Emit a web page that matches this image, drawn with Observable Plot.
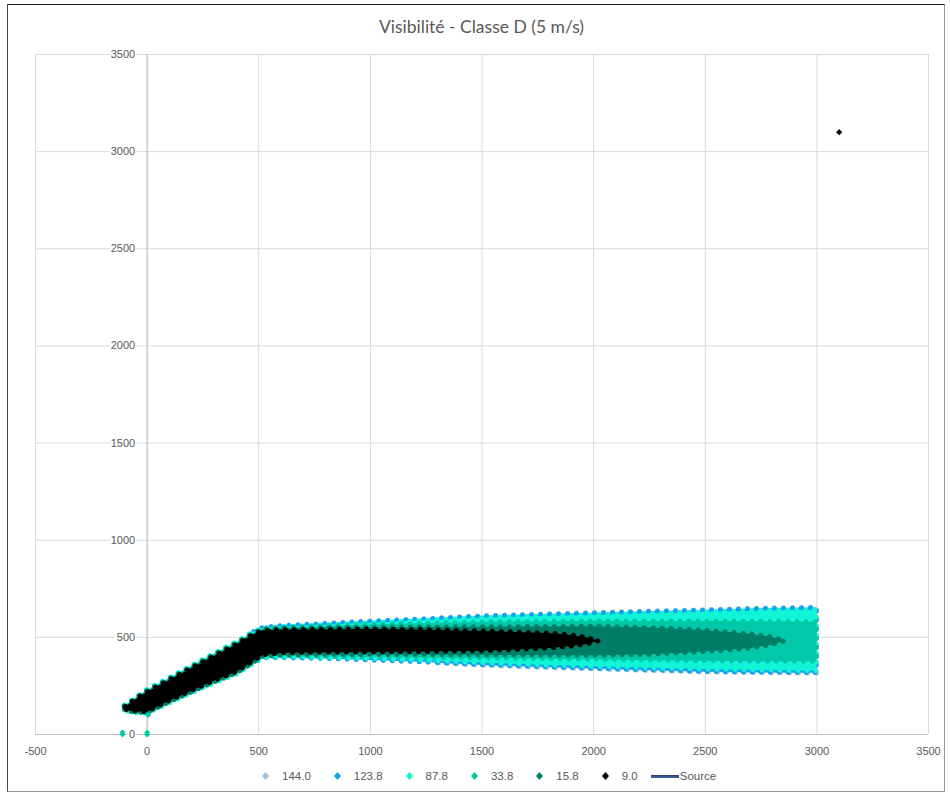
<!DOCTYPE html>
<html>
<head>
<meta charset="utf-8">
<script src="https://cdn.jsdelivr.net/npm/d3@7"></script>
<script src="https://cdn.jsdelivr.net/npm/@observablehq/plot@0.6"></script>
<style>
  body { margin: 0; background: #fff; width: 950px; height: 795px; position: relative; overflow: hidden; font-family: "Liberation Sans", sans-serif; }
  #frame { position: absolute; left: 7px; top: 4px; width: 938px; height: 788px; border: 1px solid #999; border-top-color: #222; border-left-color: #444; box-sizing: border-box; }
  #title { position: absolute; top: 17px; left: 0; width: 963px; text-align: center; font-family: Lato, "Open Sans", sans-serif; font-size: 17.5px; line-height: 20px; color: #595959; }
  #chart { position: absolute; left: 0; top: 0; }
  #legend { position: absolute; left: 262px; top: 768px; height: 16px; display: flex; align-items: center; gap: 23px; font-size: 11.5px; color: #595959; line-height: 16px; }
  #legend .item { display: flex; align-items: center; }
  #legend .item svg { margin-right: 13px; }
  #legend .src { display: inline-block; width: 28px; height: 2px; background: #3a5a94; border-top: 1px solid #2b4478; margin-right: 1px; margin-left: -10px; }
</style>
</head>
<body>
<div id="frame"></div>
<div id="title">Visibilité - Classe D (5 m/s)</div>
<div id="chart"></div>
<div id="legend"></div>
<script>
// ---- axis ticks ----
const xTicks = [-500, 0, 500, 1000, 1500, 2000, 2500, 3000, 3500];
const yTicks = [0, 500, 1000, 1500, 2000, 2500, 3000, 3500];

// ---- series names / colours ----
const seriesNames = ["144.0", "123.8", "87.8", "33.8", "15.8", "9.0"];
const seriesColors = ["#95c6df", "#12a3ee", "#11f5d6", "#00c8a8", "#007d66", "#000000"];

// ---- plume envelopes (x, lower y, upper y) ----
// 144.0
const s144_x  = [1300, 1500, 1750, 2000, 2250, 2500, 2750, 3000];
const s144_lo = [366, 354, 344, 335, 327, 319, 315, 313];
const s144_hi = [597, 609, 617, 625, 633, 640, 648, 653];
// 123.8
const s123_x  = [480, 520, 600, 800, 1000, 1250, 1500, 1750, 2000, 2250, 2500, 2750, 3000];
const s123_lo = [366, 392, 393, 388, 381, 370, 357, 347, 338, 330, 322, 318, 316];
const s123_hi = [527, 548, 558, 569, 581, 593, 606, 614, 622, 630, 637, 645, 650];
// 87.8
const s87_x  = [-100, -70, -30, 0, 100, 200, 300, 400, 470, 520, 600, 800, 1000, 1250, 1500, 1750, 2000, 2250, 2500, 2750, 3000];
const s87_lo = [122, 112, 108, 106, 160, 212, 262, 308, 358, 395, 398, 394, 390, 380, 368, 358, 350, 342, 335, 330, 326];
const s87_hi = [148, 172, 205, 228, 290, 352, 414, 474, 522, 545, 552, 562, 572, 585, 598, 606, 612, 620, 628, 635, 640];
// 33.8
const s33_x  = [-100, -70, -30, 0, 100, 200, 300, 400, 470, 520, 600, 800, 1000, 1250, 1500, 1750, 2000, 2250, 2500, 2750, 3000];
const s33_lo = [124, 115, 111, 110, 164, 216, 266, 312, 362, 399, 402, 400, 398, 394, 391, 388, 385, 381, 377, 375, 374];
const s33_hi = [145, 168, 201, 224, 285, 347, 409, 469, 517, 541, 548, 556, 563, 570, 576, 580, 582, 582, 581, 580, 578];
// 15.8
const s15_x  = [-100, -70, -30, 0, 100, 200, 300, 400, 470, 520, 600, 800, 1000, 1250, 1500, 1750, 2000, 2250, 2400, 2550, 2700, 2800, 2860];
const s15_lo = [126, 117, 113, 112, 167, 219, 270, 316, 366, 403, 408, 409, 410, 409, 407, 406, 405, 410, 418, 428, 442, 460, 480];
const s15_hi = [143, 165, 198, 220, 281, 343, 405, 464, 513, 538, 544, 548, 550, 551, 552, 553, 555, 548, 540, 530, 516, 500, 480];
// 9.0
const s9_x  = [-95, -70, -30, 0, 100, 200, 300, 400, 470, 520, 600, 800, 1000, 1250, 1500, 1650, 1800, 1900, 1970, 2025];
const s9_lo = [128, 119, 116, 114, 171, 223, 274, 320, 370, 407, 418, 421, 422, 424, 429, 435, 443, 452, 463, 480];
const s9_hi = [140, 162, 194, 215, 277, 339, 400, 459, 508, 533, 536, 538, 540, 537, 530, 525, 520, 510, 498, 480];

// ---- isolated points ----
const p33_x = [-110, -110, 0, 0, 5];
const p33_y = [0, 10, 0, 10, 100];
const p9_x = [3100];
const p9_y = [3100];

const envelopes = [
  [s144_x, s144_lo, s144_hi],
  [s123_x, s123_lo, s123_hi],
  [s87_x, s87_lo, s87_hi],
  [s33_x, s33_lo, s33_hi],
  [s15_x, s15_lo, s15_hi],
  [s9_x, s9_lo, s9_hi]
];

const bandMarks = envelopes.map(([xs, lo, hi], k) => {
  const rows = xs.map((x, i) => ({x, lo: lo[i], hi: hi[i]}));
  return Plot.areaY(rows, {
    x: "x", y1: "lo", y2: "hi",
    fill: seriesColors[k],
    stroke: seriesColors[k],
    strokeWidth: 5,
    strokeDasharray: "0.1 8.9",
    strokeDashoffset: k === 0 ? 4.5 : 0,
    strokeLinecap: "round",
    curve: "linear"
  });
});

const pts33 = p33_x.map((x, i) => ({x, y: p33_y[i]}));
const pts9 = p9_x.map((x, i) => ({x, y: p9_y[i]}));

const chart = Plot.plot({
  width: 950,
  height: 765,
  marginLeft: 35,
  marginRight: 22,
  marginTop: 54,
  marginBottom: 31,
  x: {domain: [-500, 3500], axis: null},
  y: {domain: [0, 3500], axis: null},
  style: {fontFamily: "Liberation Sans, sans-serif", fontSize: "11px", color: "#595959", background: "transparent"},
  marks: [
    Plot.ruleX(xTicks, {stroke: "#d9d9d9", strokeOpacity: 1}),
    Plot.ruleY(yTicks, {stroke: "#d9d9d9", strokeOpacity: 1}),
    Plot.ruleX([0], {stroke: "#bfbfbf", strokeOpacity: 1}),
    Plot.ruleY([0], {stroke: "#bfbfbf", strokeOpacity: 1}),
    Plot.text(yTicks, {x: 0, y: d => d, text: d => String(d), textAnchor: "end", dx: -12, fill: "#595959", stroke: "white", strokeWidth: 4, fontSize: 11}),
    Plot.text(xTicks, {x: d => d, y: 0, text: d => String(d), dy: 17, fill: "#595959", fontSize: 11}),
    ...bandMarks,
    Plot.dot(pts33, {x: "x", y: "y", symbol: "diamond2", r: 2.7, fill: seriesColors[3], stroke: "none"}),
    Plot.dot(pts9, {x: "x", y: "y", symbol: "diamond2", r: 2.8, fill: seriesColors[5], stroke: "none"})
  ]
});
document.getElementById("chart").appendChild(chart);

// ---- legend ----
const legend = document.getElementById("legend");
seriesNames.forEach((name, k) => {
  const item = document.createElement("span");
  item.className = "item";
  item.innerHTML = `<svg width="7" height="8" viewBox="0 0 7 8"><path d="M3.5 0L7 4L3.5 8L0 4Z" fill="${seriesColors[k]}"/></svg><span>${name}</span>`;
  legend.appendChild(item);
});
const src = document.createElement("span");
src.className = "item";
src.innerHTML = `<span class="src"></span><span>Source</span>`;
legend.appendChild(src);
</script>
</body>
</html>
